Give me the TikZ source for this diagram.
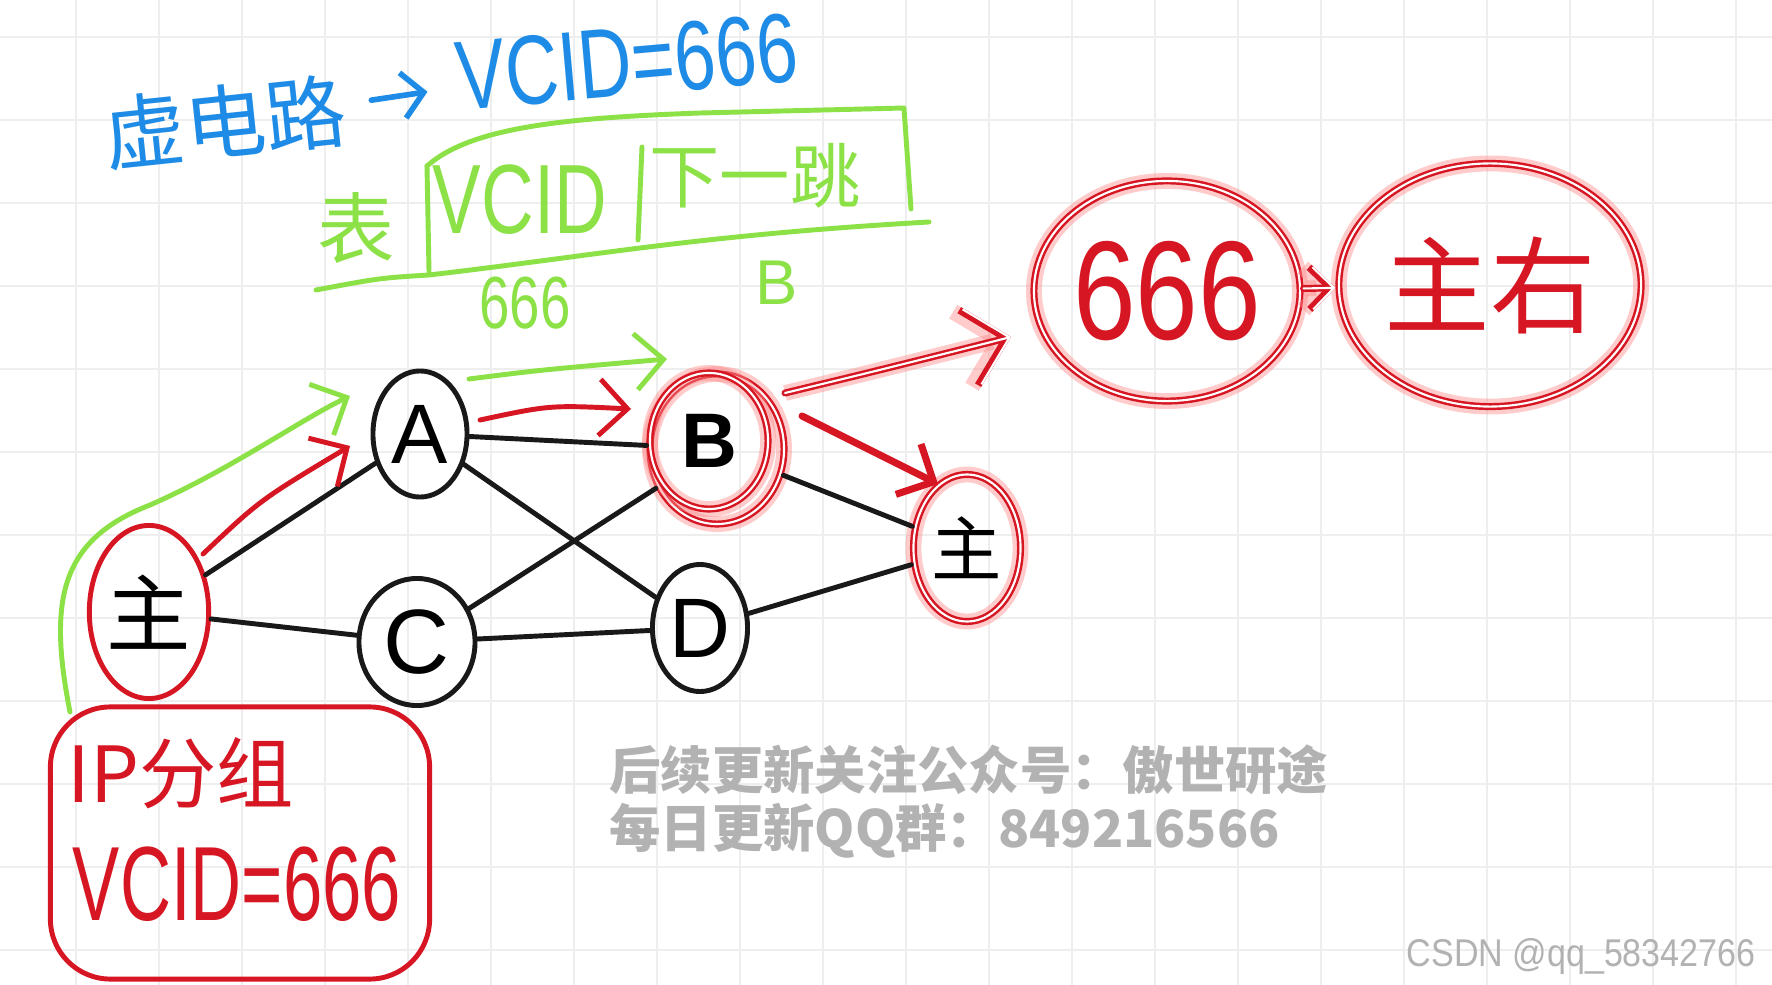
\documentclass[tikz,border=0pt]{standalone}
\usepackage{fontspec}
\usepackage{graphicx}
\setmainfont{Liberation Sans}
\newfontfamily\cjk{Noto Sans CJK SC}
\usetikzlibrary{arrows.meta,shapes.geometric}
\definecolor{hred}{RGB}{214,22,34}
\definecolor{hblue}{RGB}{30,140,230}
\definecolor{hgreen}{RGB}{140,225,70}
\definecolor{gridc}{RGB}{238,238,238}
\definecolor{wmgray}{RGB}{178,178,178}
\newcommand{\fsz}[1]{\fontsize{#1}{#1}\selectfont}
\begin{document}
\begin{tikzpicture}[x=0.01cm,y=-0.01cm,
  pen/.style={line width=1.4pt, line cap=round, line join=round},
  blk/.style={pen, draw=black!90},
  gpen/.style={pen, draw=hgreen},
  rpen/.style={pen, draw=hred},
  barb/.style={-{Straight Barb[length=8pt,width=16pt]}},
  neon/.style={draw=hred, line width=2pt, line cap=round, line join=round,
    preaction={draw=red!45, line width=4.5pt, opacity=0.45},
    postaction={draw=white, line width=0.6pt}},
  hnode/.style={ellipse, inner sep=0pt}]
\fill[white] (0,0) rectangle (1772,985);
\useasboundingbox (0,0) rectangle (1772,985);
% grid
\foreach \gx in {-7,76,...,1736} \draw[gridc, line width=0.8pt] (\gx,0) -- (\gx,985);
\foreach \gy in {37,120,...,950} \draw[gridc, line width=0.8pt] (0,\gy) -- (1772,\gy);

% blue title
\node[text=hblue, rotate=6] (xdl) at (225,122) {\cjk\fsz{23}虚电路};
\node[text=hblue, rotate=5] (vcid) at (627,62) {\fsz{28}\scalebox{0.75}[1]{VCID=666}};
\draw[hblue, line width=1.6pt, line cap=round, -{Straight Barb[length=6pt,width=13pt]}, shorten <=4pt, shorten >=5pt] (xdl) -- (vcid);

% green table
\node[text=hgreen] (biao) at (356,228) {\cjk\fsz{22}表};
\node[text=hgreen] (tv) at (520,200) {\fsz{28}\scalebox{0.74}[1]{VCID}};
\node[text=hgreen] (tn) at (755,176) {\cjk\fsz{20}下一跳};
\node[text=hgreen] (t666) at (525,303) {\fsz{21}\scalebox{0.74}[1]{666}};
\node[text=hgreen] (tB) at (777,283) {\fsz{18}B};
\draw[gpen] (316,290) .. controls (380,278) .. (429,275) .. controls (600,255) and (700,235) .. (929,222);
\draw[gpen] (427,166) -- (429,271);
\draw[gpen] (427,166) .. controls (470,128) and (560,118) .. (700,113) -- (904,108) -- (911,209);
\draw[gpen] (642,147) -- (638,240);

% network nodes
\node[hnode, draw=hred, pen, minimum width=1.05cm, minimum height=1.73cm] (src) at (149,612) {\cjk\fsz{24}主};
\node[hnode, blk, minimum width=0.94cm, minimum height=1.26cm] (A) at (420,434) {\fsz{24}A};
\node[hnode, neon, minimum width=1.34cm, minimum height=1.5cm] (Bo) at (717,449) {};
\node[hnode, neon, minimum width=1.18cm, minimum height=1.36cm] (B) at (709,441) {\fsz{22}\bfseries B};
\node[hnode, blk, minimum width=1.16cm, minimum height=1.27cm] (C) at (417,642) {\fsz{26}C};
\node[hnode, blk, minimum width=0.95cm, minimum height=1.27cm] (D) at (700,628) {\fsz{24}D};
\node[hnode, neon, minimum width=1.07cm, minimum height=1.47cm] (tgt) at (967,548) {\cjk\fsz{20}主};
\node[hnode, neon, minimum width=2.66cm, minimum height=2.2cm] (n666) at (1167,291) {\fsz{40}\color{hred}\scalebox{0.8}[1]{666}};
\node[hnode, neon, minimum width=3.02cm, minimum height=2.43cm] (nzy) at (1490,285) {\cjk\fsz{30}\color{hred}主右};

% black links
\draw[blk] (src) -- (A);
\draw[blk] (src) -- (C);
\draw[blk] (A) -- (Bo);
\draw[blk] (A) -- (D);
\draw[blk] (C) -- (Bo);
\draw[blk] (C) -- (D);
\draw[blk] (Bo) -- (tgt);
\draw[blk] (D) -- (tgt);

% free ends of the hand-drawn arrows
\coordinate (g1s) at (70,712);
\coordinate (g1e) at (350,396);
\coordinate (g2s) at (469,379);
\coordinate (g2e) at (667,359);
\coordinate (r1s) at (203,554);
\coordinate (r1e) at (350,446);
\coordinate (r2s) at (480,420);
\coordinate (r2e) at (631,409);
\coordinate (r3s) at (802,416);
\coordinate (r3e) at (938,484);
\coordinate (r4s) at (785,393);
\coordinate (r4e) at (1011,337);

% IP packet box
\node[draw=hred, pen, rounded corners=0.6cm, minimum width=3.79cm, minimum height=2.72cm] (ipbox) at (240,843) {};
\node[text=hred] (ip1) at (181,773) {\cjk\fsz{22}IP分组};
\node[text=hred] (ip2) at (237,884) {\fsz{30}\scalebox{0.67}[1]{VCID=666}};

% green path arrows
\draw[gpen, barb] (g1s) .. controls (48,600) and (60,540) .. (150,505) .. controls (230,470) and (300,420) .. (g1e);
\draw[gpen, barb] (g2s) .. controls (540,370) .. (g2e);
% red path arrows
\draw[rpen, barb] (r1s) .. controls (260,500) .. (r1e);
\draw[rpen, barb] (r2s) .. controls (550,405) .. (r2e);
\draw[rpen, barb, line width=2pt] (r3s) -- (r3e);
% neon arrows
\draw[neon, -{Straight Barb[length=11pt,width=22pt]}] (r4s) .. controls (880,370) .. (r4e);
\draw[neon, -{Straight Barb[length=6pt,width=12pt]}] (n666) -- (nzy);

% watermark
\node[anchor=west, text=wmgray] (wm1) at (597,770) {\cjk\bfseries\fsz{14.6}后续更新关注公众号：傲世研途};
\node[anchor=west, text=wmgray] (wm2) at (597,831) {\cjk\bfseries\fsz{14.6}每日更新QQ群：849216566};
\node[anchor=east, text=wmgray] (csdn) at (1768,956) {\fsz{11}\scalebox{0.88}[1]{CSDN @qq\_58342766}};
\end{tikzpicture}
\end{document}
